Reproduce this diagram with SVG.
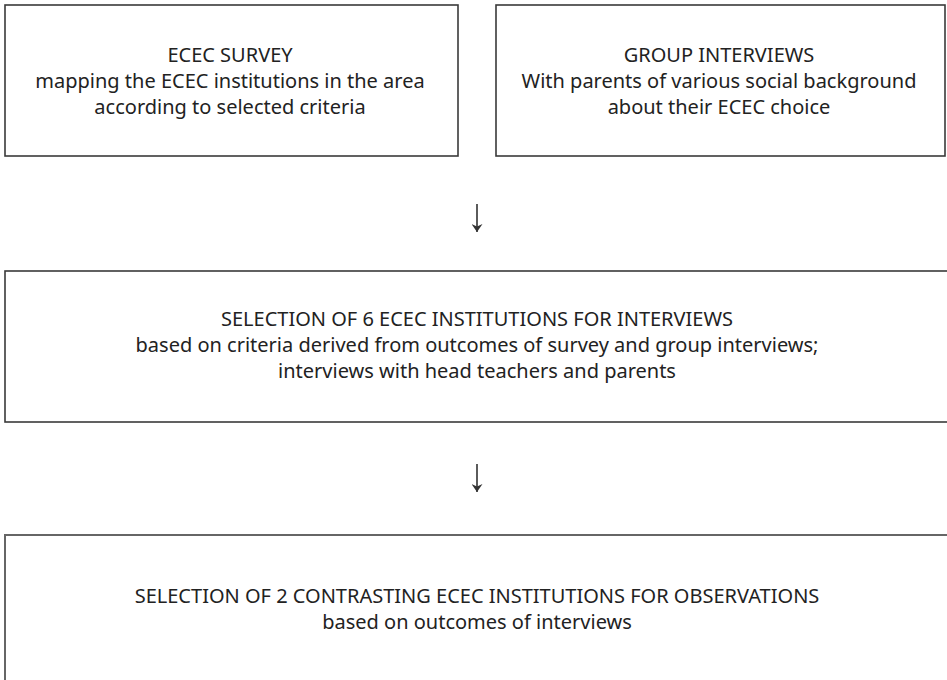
<svg xmlns="http://www.w3.org/2000/svg" width="947" height="680" viewBox="0 0 947 680">
<defs>
<style>
.box{fill:#fff;stroke:#3a3a3a;stroke-width:1.6}
.box4{fill:#fff;stroke:#666;stroke-width:2}
text{font-family:"Noto Sans","DejaVu Sans",sans-serif;font-size:20px;fill:#222;text-anchor:middle}
.conn{stroke:#333;stroke-width:1.6;fill:none}
</style>
<marker id="ah" viewBox="0 0 8 11" refX="8" refY="5.5" markerWidth="8" markerHeight="11" markerUnits="userSpaceOnUse" orient="auto">
<path d="M0,0 L8,5.5 L0,11 L2.5,5.5 Z" fill="#333"/>
</marker>
</defs>
<rect width="947" height="680" fill="#fff"/>
<g id="survey">
<rect class="box" x="5" y="5" width="453" height="151"/>
<text x="230" y="62">ECEC SURVEY</text>
<text x="230" y="88">mapping the ECEC institutions in the area</text>
<text x="230" y="114">according to selected criteria</text>
</g>
<g id="group-interviews">
<rect class="box" x="496" y="5" width="449" height="151"/>
<text x="719" y="62">GROUP INTERVIEWS</text>
<text x="719" y="88">With parents of various social background</text>
<text x="719" y="114">about their ECEC choice</text>
</g>
<g id="selection6">
<rect class="box" x="5" y="271" width="950" height="151"/>
<text x="477" y="326">SELECTION OF 6 ECEC INSTITUTIONS FOR INTERVIEWS</text>
<text x="477" y="352">based on criteria derived from outcomes of survey and group interviews;</text>
<text x="477" y="378">interviews with head teachers and parents</text>
</g>
<g id="selection2">
<rect class="box4" x="5" y="535" width="950" height="160"/>
<text x="477" y="603">SELECTION OF 2 CONTRASTING ECEC INSTITUTIONS FOR OBSERVATIONS</text>
<text x="477" y="629">based on outcomes of interviews</text>
</g>
<g id="connectors">
<line class="conn" x1="477" y1="204" x2="477" y2="232" marker-end="url(#ah)"/>
<line class="conn" x1="477" y1="464" x2="477" y2="492" marker-end="url(#ah)"/>
</g>
</svg>
